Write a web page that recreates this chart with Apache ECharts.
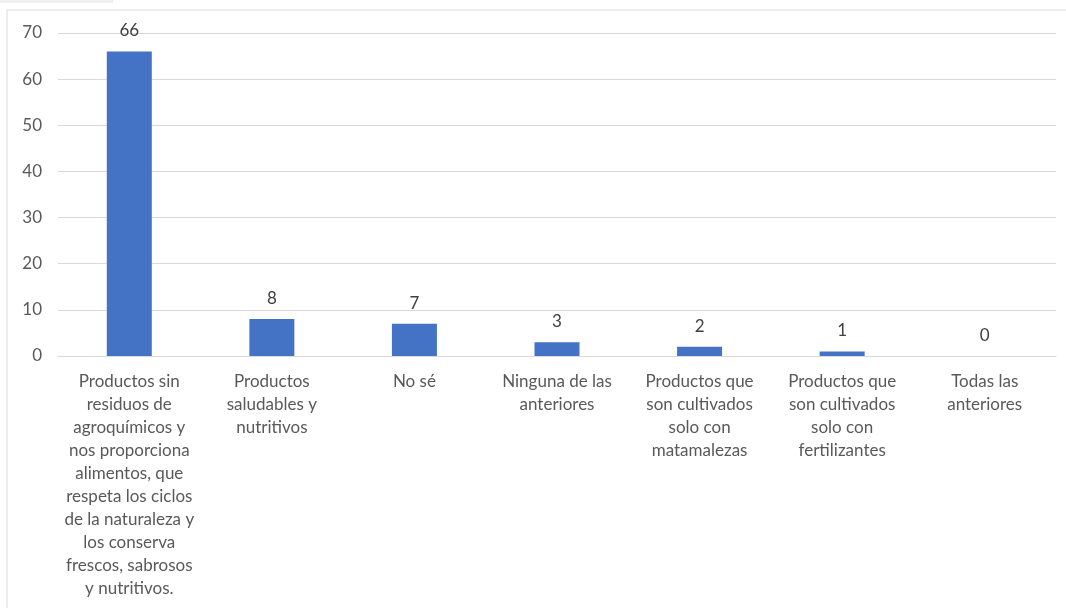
<!DOCTYPE html>
<html>
<head>
<meta charset="utf-8">
<script src="https://cdn.jsdelivr.net/npm/echarts@6/dist/echarts.min.js"></script>
<style>
html,body{margin:0;padding:0;background:#fff;}
#chart{width:1066px;height:608px;}
</style>
</head>
<body>
<div id="chart"></div>
<script>
const categories = [
  "Productos sin\nresiduos de\nagroquímicos y\nnos proporciona\nalimentos, que\nrespeta los ciclos\nde la naturaleza y\nlos conserva\nfrescos, sabrosos\ny nutritivos.",
  "Productos\nsaludables y\nnutritivos",
  "No sé",
  "Ninguna de las\nanteriores",
  "Productos que\nson cultivados\nsolo con\nmatamalezas",
  "Productos que\nson cultivados\nsolo con\nfertilizantes",
  "Todas las\nanteriores"
];
const values = [66, 8, 7, 3, 2, 1, 0];
const yTicks = [0, 10, 20, 30, 40, 50, 60, 70];

const FONT = "Lato, 'Open Sans', sans-serif";
const chart = echarts.init(document.getElementById('chart'), null, {renderer: 'canvas'});
chart.setOption({
  animation: false,
  backgroundColor: '#ffffff',
  graphic: [
    {type: 'rect', shape: {x: 0, y: 0, width: 113, height: 3}, style: {fill: '#f0f0f0'}, silent: true},
    {type: 'rect', shape: {x: 7, y: 10, width: 1080, height: 620}, style: {fill: 'none', stroke: '#d9d9d9', lineWidth: 1}, silent: true}
  ],
  grid: {left: 58, right: 10, top: 33, bottom: 252, containLabel: false},
  xAxis: {
    type: 'category',
    data: categories,
    axisLine: {show: true, lineStyle: {color: '#d9d9d9', width: 1}},
    axisTick: {show: false},
    axisLabel: {
      interval: 0,
      color: '#595959',
      fontFamily: FONT,
      fontSize: 17,
      lineHeight: 23,
      margin: 14,
      align: 'center'
    }
  },
  yAxis: {
    type: 'value',
    min: yTicks[0],
    max: yTicks[yTicks.length - 1],
    interval: 10,
    axisLine: {show: false},
    axisTick: {show: false},
    splitLine: {show: true, lineStyle: {color: '#d9d9d9', width: 1}},
    axisLabel: {color: '#595959', fontFamily: FONT, fontSize: 17, margin: 16}
  },
  series: [{
    type: 'bar',
    data: values,
    barWidth: 45,
    itemStyle: {color: '#4472C4'},
    label: {
      show: true,
      position: 'top',
      distance: 12,
      color: '#404040',
      fontFamily: FONT,
      fontSize: 17
    }
  }]
});
</script>
</body>
</html>
